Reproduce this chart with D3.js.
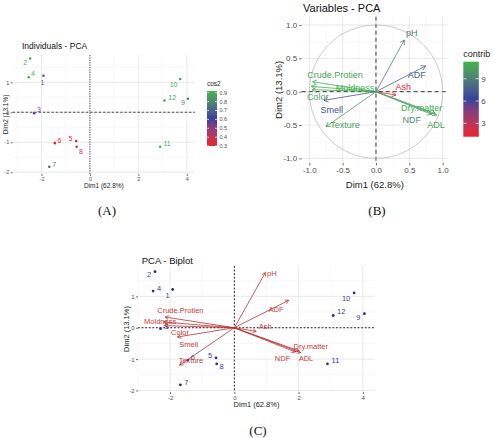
<!DOCTYPE html>
<html><head><meta charset="utf-8">
<script src="https://cdn.jsdelivr.net/npm/d3@7"></script>
<style>body{margin:0;background:#fff} svg{display:block} text{font-family:"Liberation Sans",Arial,sans-serif}</style>
</head><body><svg id="c" width="500" height="438"></svg>
<script>
// ---------- data ----------
const indNames = ["1","2","3","4","5","6","7","8","9","10","11","12"];
const indDim1  = [-1.92,-2.47,-2.30,-2.53,-0.57,-1.45,-1.68,-0.55,4.05,3.73,2.90,3.08];
const indDim2  = [1.22,1.79,-0.03,1.17,-0.96,-1.03,-1.82,-1.15,0.45,1.11,-1.15,0.39];
const indCos2  = [0.68,0.92,0.55,0.90,0.33,0.30,0.75,0.37,0.80,0.88,0.90,0.86];

const varNames   = ["pH","ADF","Ash","Dry.matter","NDF","ADL","Crude.Protien","Moldness","Color","Smell","Texture"];
const varDim1    = [0.425,0.745,0.30,0.885,0.835,0.91,-0.95,-0.97,-0.96,-0.78,-0.75];
const varDim2    = [0.775,0.385,-0.05,-0.325,-0.34,-0.35,0.15,0.08,0.03,-0.13,-0.525];
const varContrib = [9.0,7.8,1.2,11.0,9.8,10.5,10.6,11.3,10.6,7.2,10.2];

const cos2Ticks    = [0.3,0.4,0.5,0.6,0.7,0.8,0.9];
const contribTicks = [3,6,9];
const axisTicksInd = [-2,0,2,4];
const axisTicksIndY= [-2,-1,0,1];
const axisTicksVar = [-1,-0.5,0,0.5,1];
const biplotScale = 2.27;

// ---------- layout (label placements) ----------
const indLabDxA = [-1,-5,4.7,4.3,-5.7,4.7,5,4.3,-5,-6.7,7,7.7];
const indLabDyA = [6.7,4.3,-3.3,-3.3,-2.7,-2.3,-2.7,5,3.7,5.7,-3.3,-3.3];
const indLabDxC = [-5,-6,6,6,-6,5,6,5,-6,-8,8,8];
const indLabDyC = [6,3,-2,-3,-2,-3,-2,3,4,5,-3,-4];
const varLabB1 = [0.535,0.61,0.41,0.685,0.535,0.9,-0.615,-0.315,-0.875,-0.665,-0.465];
const varLabB2 = [0.875,0.25,0.065,-0.235,-0.425,-0.49,0.25,0.05,-0.075,-0.275,-0.5];
const varLabC1 = [1.17,1.3,0.96,2.38,1.5,2.23,-1.68,-2.31,-1.69,-1.42,-1.35];
const varLabC2 = [1.74,0.6,0.04,-0.6,-0.99,-0.99,0.55,0.21,-0.14,-0.54,-1.04];

const svg = d3.select("#c");
function grad(lo,hi){
  return d3.scaleLinear().domain([lo,(lo+hi)/2,hi]).range(["#EE1F2D","#33409E","#3DB54A"]).interpolate(d3.interpolateLab);
}

function panel(c){
  const g = svg.append("g");
  const x = d3.scaleLinear().domain(c.xd).range([c.px0,c.px1]);
  const y = d3.scaleLinear().domain(c.yd).range([c.py1,c.py0]);
  c.xMinor.forEach(v=>g.append("line").attr("x1",x(v)).attr("x2",x(v)).attr("y1",c.py0).attr("y2",c.py1).attr("stroke","#f3f3f3").attr("stroke-width",0.6));
  c.yMinor.forEach(v=>g.append("line").attr("y1",y(v)).attr("y2",y(v)).attr("x1",c.px0).attr("x2",c.px1).attr("stroke","#f3f3f3").attr("stroke-width",0.6));
  c.xMajor.forEach(v=>g.append("line").attr("x1",x(v)).attr("x2",x(v)).attr("y1",c.py0).attr("y2",c.py1).attr("stroke","#e6e6e6").attr("stroke-width",0.9));
  c.yMajor.forEach(v=>g.append("line").attr("y1",y(v)).attr("y2",y(v)).attr("x1",c.px0).attr("x2",c.px1).attr("stroke","#e6e6e6").attr("stroke-width",0.9));
  const ax = g.append("g").attr("transform",`translate(0,${c.py1})`)
    .call(d3.axisBottom(x).tickValues(c.xMajor).tickSize(c.tick).tickPadding(c.pad).tickFormat(c.fmt));
  const ay = g.append("g").attr("transform",`translate(${c.px0},0)`)
    .call(d3.axisLeft(y).tickValues(c.yMajor).tickSize(c.tick).tickPadding(c.pad).tickFormat(c.fmt));
  [ax,ay].forEach(a=>{
    a.select(".domain").remove();
    a.selectAll("line").attr("stroke","#333").attr("stroke-width",0.7);
    a.selectAll("text").attr("fill","#4d4d4d").style("font-size",c.tf+"px").style("font-family","Liberation Sans, Arial, sans-serif");
  });
  g.append("line").attr("x1",c.px0).attr("x2",c.px1).attr("y1",y(0)).attr("y2",y(0)).attr("stroke","#222").attr("stroke-width",c.zw).attr("stroke-dasharray",c.dashH);
  g.append("line").attr("x1",x(0)).attr("x2",x(0)).attr("y1",c.py0).attr("y2",c.py1).attr("stroke","#222").attr("stroke-width",c.zw).attr("stroke-dasharray",c.dashV);
  g.append("text").attr("x",c.titleX).attr("y",c.titleY).attr("fill","#111").style("font-size",c.titleF+"px").text(c.title);
  g.append("text").attr("x",(c.px0+c.px1)/2).attr("y",c.xlabY).attr("text-anchor","middle").attr("fill","#222").style("font-size",c.lf+"px").text("Dim1 (62.8%)");
  g.append("text").attr("transform",`translate(${c.ylabX},${(c.py0+c.py1)/2}) rotate(-90)`).attr("text-anchor","middle").attr("fill","#222").style("font-size",c.lf+"px").text("Dim2 (13.1%)");
  return {g,x,y};
}

function arrow(g,x1,y1,x2,y2,color,len,w){
  g.append("line").attr("x1",x1).attr("y1",y1).attr("x2",x2).attr("y2",y2).attr("stroke",color).attr("stroke-width",w);
  const a = Math.atan2(y2-y1,x2-x1), s=Math.PI/6;
  const p = d3.path();
  p.moveTo(x2-len*Math.cos(a-s), y2-len*Math.sin(a-s)); p.lineTo(x2,y2); p.lineTo(x2-len*Math.cos(a+s), y2-len*Math.sin(a+s));
  g.append("path").attr("d",p.toString()).attr("fill","none").attr("stroke",color).attr("stroke-width",w);
}

function colorbar(gx,gy,w,h,lo,hi,ticks,fmt,title,tf,lf,col){
  const g = svg.append("g");
  const id = "g"+title;
  const defs = svg.append("defs");
  const lg = defs.append("linearGradient").attr("id",id).attr("x1",0).attr("x2",0).attr("y1",1).attr("y2",0);
  d3.range(0,1.0001,0.05).forEach(t=>lg.append("stop").attr("offset",t).attr("stop-color",col(lo+t*(hi-lo))));
  const s = d3.scaleLinear().domain([lo,hi]).range([gy+h,gy]);
  g.append("text").attr("x",gx).attr("y",gy-5).attr("fill","#222").style("font-size",tf+"px").text(title);
  g.append("rect").attr("x",gx).attr("y",gy).attr("width",w).attr("height",h).attr("fill",`url(#${id})`);
  ticks.forEach(t=>{
    g.append("line").attr("x1",gx).attr("x2",gx+w*0.2).attr("y1",s(t)).attr("y2",s(t)).attr("stroke","#fff").attr("stroke-width",0.7);
    g.append("line").attr("x1",gx+w*0.8).attr("x2",gx+w).attr("y1",s(t)).attr("y2",s(t)).attr("stroke","#fff").attr("stroke-width",0.7);
    g.append("text").attr("x",gx+w+2.5).attr("y",s(t)).attr("dy","0.35em").attr("fill","#4d4d4d").style("font-size",lf+"px").text(fmt(t));
  });
}

// ---------- Panel A ----------
const cosCol = grad(d3.min(indCos2), d3.max(indCos2));
const A = panel({px0:12.7,px1:195,py0:55,py1:174,xd:[-3.19,4.34],yd:[-2.06,1.91],
  xMajor:axisTicksInd,xMinor:[-3,-1,1,3],yMajor:axisTicksIndY,yMinor:[-1.5,-0.5,0.5,1.5],
  tick:2,pad:1.5,tf:5.5,fmt:d=>String(d),zw:0.8,dashH:"2.5,1.8",dashV:"1.2,1.2",
  title:"Individuals - PCA",titleX:22,titleY:49,titleF:8.5,xlabY:188,ylabX:8,lf:6.5});
indNames.forEach((n,i)=>{
  const cx=A.x(indDim1[i]), cy=A.y(indDim2[i]), c=cosCol(indCos2[i]);
  A.g.append("circle").attr("cx",cx).attr("cy",cy).attr("r",1.3).attr("fill",c);
  A.g.append("text").attr("x",cx+indLabDxA[i]).attr("y",cy+indLabDyA[i]).attr("dy","0.35em").attr("text-anchor","middle").attr("fill",c).style("font-size","7px").text(n);
});
colorbar(207,91,10,55,d3.min(indCos2),d3.max(indCos2),cos2Ticks.filter(t=>t<=d3.max(indCos2)),d=>d.toFixed(1),"cos2",6.5,5.5,cosCol);

// ---------- Panel B ----------
const conCol = grad(d3.min(varContrib), d3.max(varContrib));
const B = panel({px0:301.7,px1:448,py0:16.7,py1:163,xd:[-1.114,1.08],yd:[-1.069,1.124],
  xMajor:axisTicksVar,xMinor:[-0.75,-0.25,0.25,0.75],yMajor:axisTicksVar,yMinor:[-0.75,-0.25,0.25,0.75],
  tick:2.5,pad:2,tf:8,fmt:d=>d.toFixed(1),zw:0.9,dashH:"4,3",dashV:"4,3",
  title:"Variables - PCA",titleX:303,titleY:12,titleF:11,xlabY:188,ylabX:282,lf:9.5});
{
  const r = B.x(1)-B.x(0);
  B.g.append("circle").attr("cx",B.x(0)).attr("cy",B.y(0)).attr("r",r).attr("fill","none").attr("stroke","#bdbdbd").attr("stroke-width",0.8);
}
varNames.forEach((n,i)=>{
  arrow(B.g,B.x(0),B.y(0),B.x(varDim1[i]),B.y(varDim2[i]),conCol(varContrib[i]),5,0.8);
});
varNames.forEach((n,i)=>{
  B.g.append("text").attr("x",B.x(varLabB1[i])).attr("y",B.y(varLabB2[i])).attr("dy","0.35em").attr("text-anchor","middle").attr("fill",conCol(varContrib[i])).style("font-size","9px").text(n);
});
colorbar(463.3,61.7,15.5,75,d3.min(varContrib),d3.max(varContrib),contribTicks,d=>String(d),"contrib",9,8,conCol);

// ---------- Panel C ----------
const C = panel({px0:138,px1:375,py0:266,py1:392,xd:[-3.0,4.38],yd:[-2.05,1.97],
  xMajor:axisTicksInd,xMinor:[-3,-1,1,3],yMajor:axisTicksIndY,yMinor:[-1.5,-0.5,0.5,1.5],
  tick:2,pad:1.5,tf:6,fmt:d=>String(d),zw:1,dashH:"1.8,1.8",dashV:"1.8,1.8",
  title:"PCA - Biplot",titleX:141.7,titleY:263.5,titleF:9.5,xlabY:406.5,ylabX:129,lf:7.5});
const indCol = "#2B2B8C";
indNames.forEach((n,i)=>{
  const cx=C.x(indDim1[i]), cy=C.y(indDim2[i]);
  C.g.append("circle").attr("cx",cx).attr("cy",cy).attr("r",1.4).attr("fill",indCol);
  C.g.append("text").attr("x",cx+indLabDxC[i]).attr("y",cy+indLabDyC[i]).attr("dy","0.35em").attr("text-anchor","middle").attr("fill","#3a3a9a").style("font-size","7.5px").text(n);
});
varNames.forEach((n,i)=>{
  arrow(C.g,C.x(0),C.y(0),C.x(varDim1[i]*biplotScale),C.y(varDim2[i]*biplotScale),"#BB3030",4,0.8);
});
varNames.forEach((n,i)=>{
  C.g.append("text").attr("x",C.x(varLabC1[i])).attr("y",C.y(varLabC2[i])).attr("dy","0.35em").attr("text-anchor","middle").attr("fill","#C83A3A").style("font-size","7.5px").text(n);
});

// ---------- captions ----------
[["(A)",107,215],["(B)",377,215],["(C)",258,435]].forEach(([t,x,y])=>{
  svg.append("text").attr("x",x).attr("y",y).attr("text-anchor","middle").attr("fill","#111").style("font-family","Liberation Serif, Times New Roman, serif").style("font-size","13px").text(t);
});
</script></body></html>
